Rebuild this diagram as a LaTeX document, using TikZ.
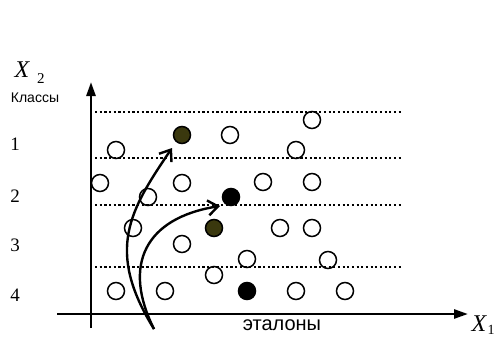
\documentclass[tikz,border=0pt]{standalone}
\usepackage{fontspec}
\setmainfont{Liberation Serif}
\newfontfamily\arialfont{Liberation Sans}
\usetikzlibrary{arrows.meta}
\definecolor{etolive}{HTML}{3A380E}

\begin{document}
\begin{tikzpicture}[x=1pt,y=-1pt,
  obj/.style={circle,draw,line width=1.5pt,minimum size=17pt,inner sep=0pt},
  classline/.style={line width=2.2pt,dash pattern=on 2.2pt off 2.47pt},
  pick/.style={line width=2.4pt,-{Straight Barb[length=10pt,width=15pt]}}]
  \useasboundingbox (0,0) rectangle (496,338);
  % axes
  \coordinate (xs) at (57,314);  \coordinate (xe) at (468,314);
  \coordinate (ys) at (91,328);  \coordinate (ye) at (91,82);
  \draw[line width=2.6pt,-{Triangle[length=14pt,width=9pt]}] (xs)--(xe);
  \draw[line width=2.6pt,-{Triangle[length=14pt,width=9pt]}] (ys)--(ye);
  \node (xone) at (479,324) {\fontsize{24}{24}\selectfont\itshape X};
  \node (xonesub) at (491,330) {\fontsize{14}{14}\selectfont 1};
  \node (xtwo) at (22,70) {\fontsize{24}{24}\selectfont\itshape X};
  \node (xtwosub) at (41,79) {\fontsize{15}{15}\selectfont 2};
  \node (klassy) at (35,98) {\arialfont\fontsize{14}{14}\selectfont Классы};
  \node (etalony) at (282,325) {\arialfont\fontsize{20}{20}\selectfont эталоны};
  % class boundaries
  \foreach \y in {112,158,205,267}
    \draw[classline] (95,\y)--(402,\y);
  \foreach \n/\y in {1/144,2/196,3/245,4/295}
    \node (k\n) at (15,\y) {\fontsize{19}{19}\selectfont \n};
  % objects
  \foreach \p [count=\i] in {(116,150),(296,150),(230,135),(312,120),(100,183),
      (182,183),(263,182),(312,182),(148,197),(133,228),(280,228),(312,228),
      (182,244),(247,259),(328,260),(214,275),(116,291),(165,291),(296,291),(345,291)}
    \node[obj] (o\i) at \p {};
  \node[obj,fill=etolive] (e1) at (182,135) {};
  \node[obj,fill=etolive] (e2) at (214,228) {};
  \node[obj,fill=black] (e3) at (231,197) {};
  \node[obj,fill=black] (e4) at (247,291) {};
  % choice of etalons
  \coordinate (src) at (154,329);
  \coordinate (tipa) at (172,148);
  \coordinate (tipb) at (220,206);
  \draw[pick] (src) .. controls (105,250) and (130,210) .. (tipa);
  \draw[pick] (src) .. controls (122,265) and (145,218) .. (tipb);
\end{tikzpicture}
\end{document}
